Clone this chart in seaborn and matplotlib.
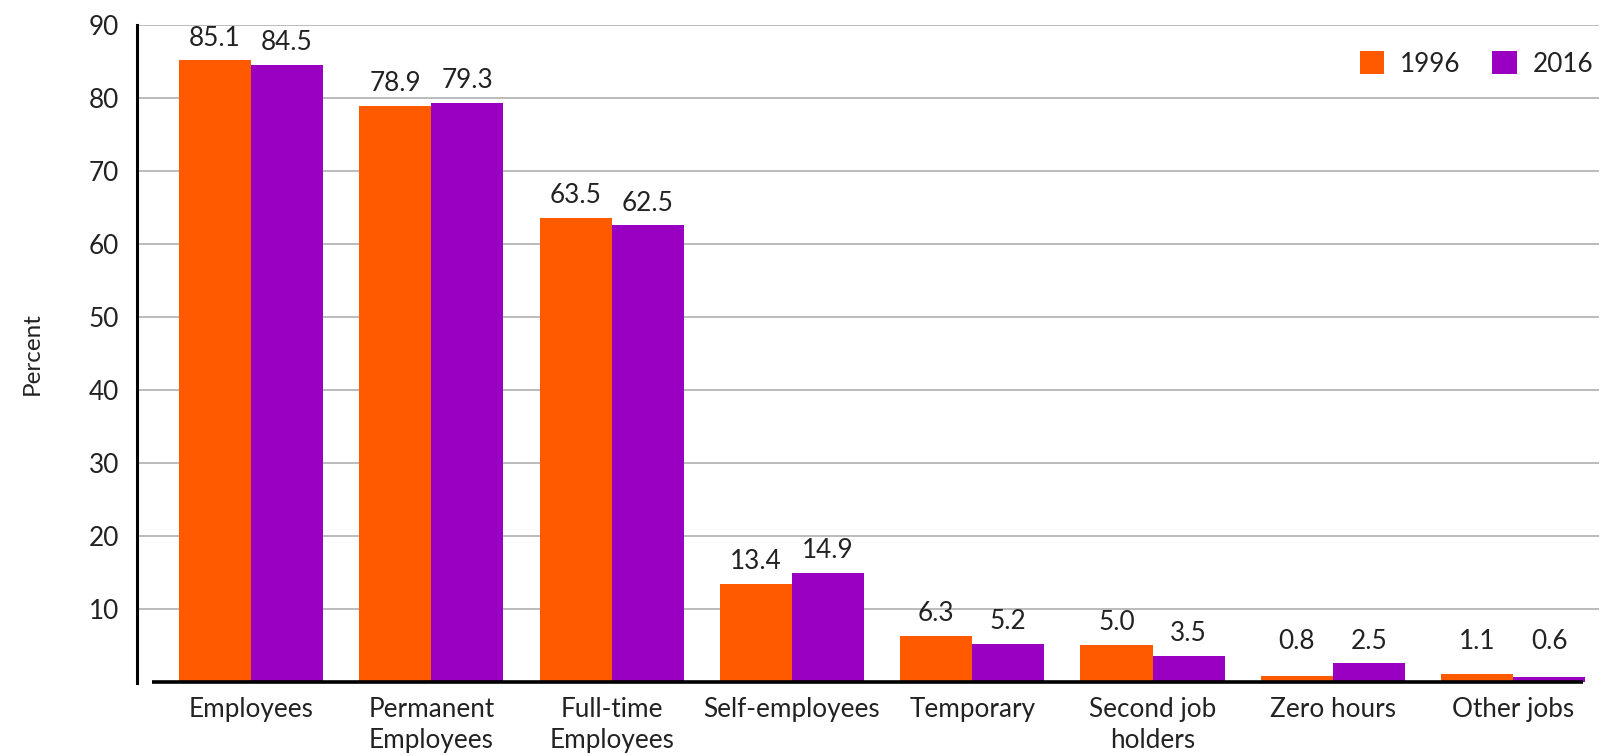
import matplotlib
matplotlib.use("Agg")
import matplotlib.pyplot as plt
from matplotlib.patches import Patch
import seaborn as sns
import pandas as pd

categories = ["Employees", "Permanent\nEmployees", "Full-time\nEmployees", "Self-employees",
              "Temporary", "Second job\nholders", "Zero hours", "Other jobs"]
values_1996 = [85.1, 78.9, 63.5, 13.4, 6.3, 5.0, 0.8, 1.1]
values_2016 = [84.5, 79.3, 62.5, 14.9, 5.2, 3.5, 2.5, 0.6]
years = ["1996", "2016"]
yticks = [10, 20, 30, 40, 50, 60, 70, 80, 90]

colors = {"1996": "#FF5A00", "2016": "#9A00C1"}
text_color = "#222222"
fs = 18.8

df = pd.DataFrame({
    "category": categories * 2,
    "year": [years[0]] * len(categories) + [years[1]] * len(categories),
    "value": values_1996 + values_2016,
})

sns.set_theme(style="white")
plt.rcParams["font.family"] = ["Lato", "DejaVu Sans"]

fig = plt.figure(figsize=(16.07, 7.56), dpi=100)
ax = fig.add_axes([0.0853, 0.0984, 0.995 - 0.0853, 0.9675 - 0.0984])

sns.barplot(data=df, x="category", y="value", hue="year", palette=colors,
            order=categories, hue_order=years, width=0.8, saturation=1,
            gap=0, ax=ax, linewidth=0, zorder=3)

ax.set_xlim(-0.632, 7.476)
ax.set_ylim(0, 90)
ax.set_yticks(yticks)
ax.set_yticklabels([str(t) for t in yticks])
ax.yaxis.grid(True, color="#a8a8a8", linewidth=1.1, zorder=0)
ax.xaxis.grid(False)
ax.set_axisbelow(True)

for s in ["top", "right", "bottom"]:
    ax.spines[s].set_visible(False)
ax.spines["left"].set_color("black")
ax.spines["left"].set_linewidth(2.2)
ax.spines["left"].set_bounds(-0.2, 90)

ax.hlines(0, -0.55, 7.39, color="black", linewidth=2.6, zorder=5, clip_on=False)

ax.tick_params(axis="both", length=0, labelsize=fs, colors=text_color)
ax.tick_params(axis="y", pad=13)
ax.tick_params(axis="x", pad=11)
for lbl in ax.get_xticklabels():
    lbl.set_linespacing(1.3)
    lbl.set_verticalalignment("top")

ax.set_xlabel("")
ax.set_ylabel("Percent", fontsize=17.5, color=text_color, labelpad=33)

for cont in ax.containers:
    for bar in cont:
        h = bar.get_height()
        x = bar.get_x() + bar.get_width() / 2
        ax.annotate(f"{h:.1f}", (x, max(h, 2.4)), xytext=(0, 7), textcoords="offset points",
                    ha="center", va="bottom", fontsize=fs, color=text_color)

leg = ax.get_legend()
if leg is not None:
    leg.remove()
handles = [Patch(facecolor=colors[y], edgecolor="none", label=y) for y in years]
ax.legend(handles=handles, loc="upper right", bbox_to_anchor=(1.012, 0.995), ncol=2,
          frameon=False, fontsize=fs, handlelength=0.95, handleheight=0.95,
          handletextpad=0.6, columnspacing=1.2, labelcolor=text_color)

fig.savefig("out.png", dpi=100)
